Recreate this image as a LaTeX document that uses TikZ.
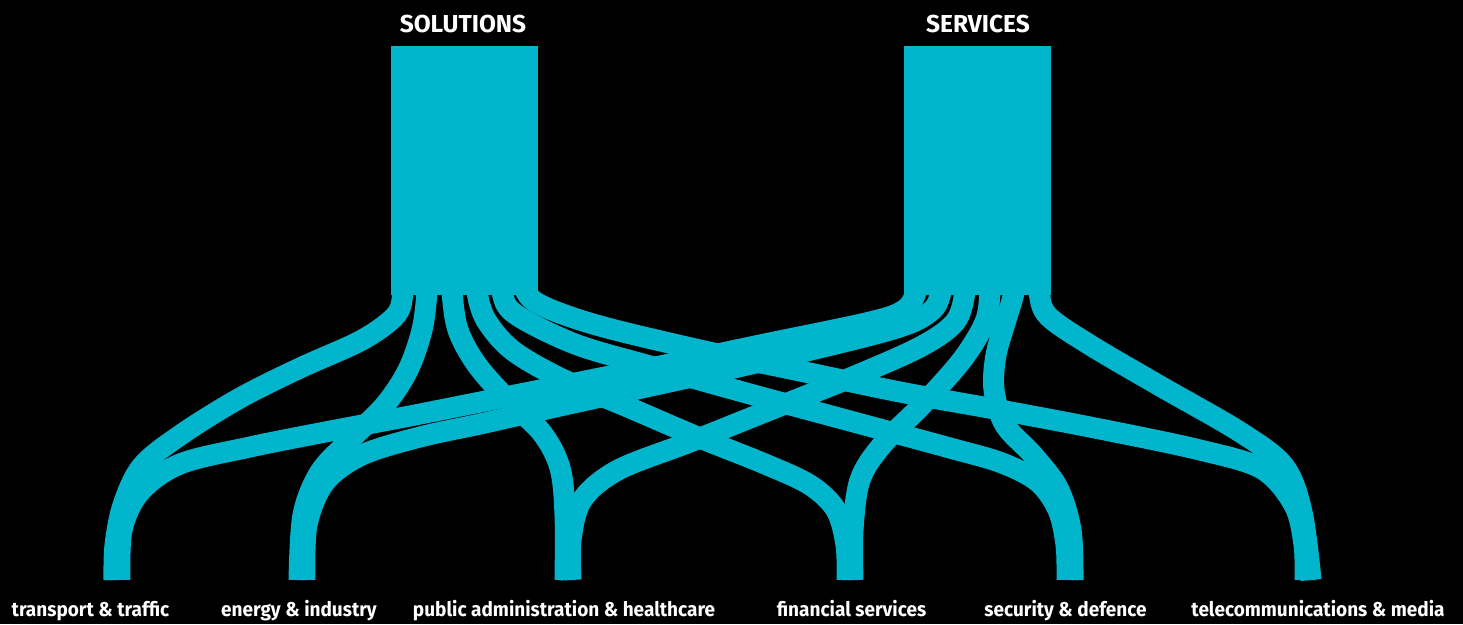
\documentclass[tikz,border=0pt]{standalone}
\usepackage{fontspec}
\setmainfont{Fira Sans}
\newfontfamily\labfont{Fira Sans}[FakeStretch=0.95]
\definecolor{flow}{RGB}{0,181,204}
\begin{document}
\begin{tikzpicture}[x=1pt,y=1pt,
  src/.style={fill=flow, draw=none, minimum width=147pt, minimum height=249pt, inner sep=0pt, outer sep=0pt},
  ttl/.style={text=white, font=\fontsize{24.5}{26}\selectfont\bfseries, anchor=base},
  lab/.style={text=white, font=\labfont\fontsize{20}{22}\selectfont\bfseries, anchor=base},
  link/.style={draw=flow, line width=21pt, line cap=butt, line join=round}]
\fill[black] (0,-624) rectangle (1463,0);
\useasboundingbox (0,-624) rectangle (1463,0);
% sources
\node[src] (sol) at (464.5,-170.5) {};
\node[src] (ser) at (977.5,-170.5) {};
\node[ttl] (solt) at (463,-32) {SOLUTIONS};
\node[ttl] (sert) at (978,-32) {SERVICES};
% band starts
\coordinate (s1) at (403,-270); \coordinate (s2) at (427,-270); \coordinate (s3) at (452,-270);
\coordinate (s4) at (477,-270); \coordinate (s5) at (502,-270); \coordinate (s6) at (526,-270);
\coordinate (v1) at (916,-270); \coordinate (v2) at (941,-270); \coordinate (v3) at (965,-270);
\coordinate (v4) at (990,-270); \coordinate (v5) at (1014,-270); \coordinate (v6) at (1039,-270);
% stem ends
\coordinate (t1a) at (114,-580); \coordinate (t1b) at (120,-580);
\coordinate (t2a) at (299,-580); \coordinate (t2b) at (305,-580);
\coordinate (t3a) at (565,-580); \coordinate (t3b) at (571,-580);
\coordinate (t4a) at (847,-580); \coordinate (t4b) at (853,-580);
\coordinate (t5a) at (1067,-580); \coordinate (t5b) at (1073,-580);
\coordinate (t6a) at (1305,-580); \coordinate (t6b) at (1311,-580);
% links from SOLUTIONS
\draw[link] plot[smooth, tension=0.55] coordinates {(s1) (403,-292) (396,-315) (362,-340) (300,-368) (240,-398) (182,-434) (142,-466) (123,-505) (115,-545) (t1a)};
\draw[link] plot[smooth, tension=0.55] coordinates {(s2) (427,-292) (422,-330) (408,-370) (385,-405) (350,-440) (320,-472) (303,-515) (t2a)};
\draw[link] plot[smooth, tension=0.55] coordinates {(s3) (452,-292) (458,-330) (477,-365) (508,-400) (542,-433) (560,-468) (565,-515) (t3a)};
\draw[link] plot[smooth, tension=0.55] coordinates {(s4) (477,-292) (486,-320) (512,-350) (560,-378) (630,-408) (700,-438) (765,-464) (810,-485) (836,-510) (846,-545) (t4a)};
\draw[link] plot[smooth, tension=0.55] coordinates {(s5) (502,-292) (515,-314) (575,-344) (650,-366) (750,-394) (850,-421) (950,-448) (1002,-463) (1038,-482) (1058,-510) (1066,-545) (t5a)};
\draw[link] plot[smooth, tension=0.55] coordinates {(s6) (526,-292) (545,-307) (600,-326) (700,-350) (800,-371) (900,-392) (1000,-410) (1100,-429) (1200,-450) (1262,-469) (1294,-505) (1304,-545) (t6a)};
% links from SERVICES
\draw[link] plot[smooth, tension=0.55] coordinates {(v1) (916,-292) (904,-310) (870,-322) (760,-345) (660,-366) (560,-386) (420,-414) (320,-433) (250,-447) (180,-464) (140,-492) (122,-530) (t1b)};
\draw[link] plot[smooth, tension=0.55] coordinates {(v2) (941,-292) (930,-312) (890,-330) (760,-362) (660,-384) (560,-406) (480,-424) (420,-437) (362,-455) (325,-482) (307,-525) (t2b)};
\draw[link] plot[smooth, tension=0.55] coordinates {(v3) (965,-292) (955,-322) (920,-347) (850,-378) (770,-410) (690,-442) (618,-470) (582,-500) (571,-540) (t3b)};
\draw[link] plot[smooth, tension=0.55] coordinates {(v4) (990,-292) (985,-322) (962,-360) (922,-405) (882,-445) (860,-480) (853,-530) (t4b)};
\draw[link] plot[smooth, tension=0.55] coordinates {(v5) (1014,-292) (1006,-320) (996,-355) (994,-390) (1005,-425) (1033,-455) (1058,-488) (1071,-530) (t5b)};
\draw[link] plot[smooth, tension=0.55] coordinates {(v6) (1039,-292) (1048,-316) (1090,-345) (1160,-386) (1240,-432) (1284,-466) (1302,-512) (t6b)};
% labels
\node[lab] (l1) at (90.5,-616) {transport \& traffic};
\node[lab] (l2) at (299,-616) {energy \& industry};
\node[lab] (l3) at (564,-616) {public administration \& healthcare};
\node[lab] (l4) at (851.5,-616) {financial services};
\node[lab] (l5) at (1065.5,-616) {security \& defence};
\node[lab] (l6) at (1318,-616) {telecommunications \& media};
\end{tikzpicture}
\end{document}
